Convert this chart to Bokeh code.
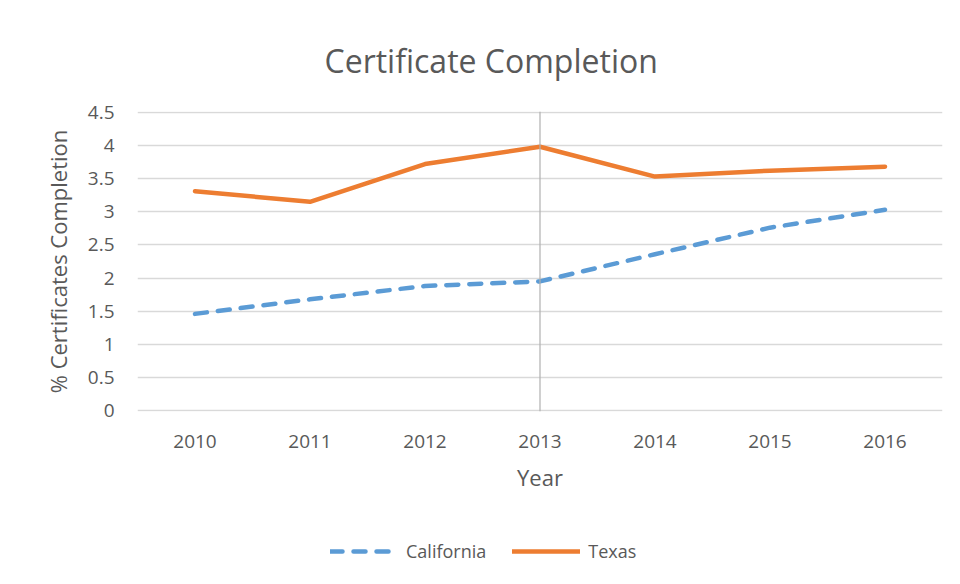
from bokeh.plotting import figure
from bokeh.layouts import column
from bokeh.models import Span, Legend, LegendItem, FixedTicker, Title
from bokeh.embed import file_html
from bokeh.resources import INLINE

years = [2010, 2011, 2012, 2013, 2014, 2015, 2016]
california = [1.46, 1.68, 1.88, 1.95, 2.36, 2.76, 3.03]
texas = [3.31, 3.15, 3.72, 3.98, 3.53, 3.62, 3.68]
y_ticks = [0, 0.5, 1, 1.5, 2, 2.5, 3, 3.5, 4, 4.5]
y_tick_labels = ["0", "0.5", "1", "1.5", "2", "2.5", "3", "3.5", "4", "4.5"]
marker_year = 2013

FONT = "Open Sans"
TXT = "#595959"
CA_STYLE = dict(line_color="#5B9BD5", line_width=4.5, line_dash="12 11", line_cap="round")
TX_STYLE = dict(line_color="#ED7D31", line_width=4.5, line_cap="round", line_join="round")

p = figure(width=944, height=520, output_backend="svg", toolbar_location=None,
           x_range=(2009.5, 2016.5), y_range=(-0.012, 4.512),
           min_border_left=137, min_border_right=2, min_border_top=111, min_border_bottom=109)
p.outline_line_color = None
p.background_fill_color = "white"
p.border_fill_color = "white"

t = Title(text="Certificate Completion", align="left", text_font=FONT, text_font_size="32px",
          text_font_style="normal", text_color=TXT, standoff=59, offset=187)
p.add_layout(t, "above")

p.xgrid.grid_line_color = None
p.ygrid.grid_line_color = "#d9d9d9"
p.ygrid.grid_line_width = 1.3

p.xaxis.ticker = FixedTicker(ticks=years)
p.yaxis.ticker = FixedTicker(ticks=y_ticks)
p.yaxis.major_label_overrides = {float(k): v for k, v in zip(y_ticks, y_tick_labels)}

for ax in (p.xaxis[0], p.yaxis[0]):
    ax.axis_line_color = None
    ax.major_tick_line_color = None
    ax.minor_tick_line_color = None
    ax.major_label_text_font = FONT
    ax.major_label_text_font_size = "19px"
    ax.major_label_text_color = TXT
    ax.axis_label_text_font = FONT
    ax.axis_label_text_font_size = "22px"
    ax.axis_label_text_font_style = "normal"
    ax.axis_label_text_color = TXT

p.xaxis.axis_label = "Year"
p.xaxis.major_label_standoff = 17
p.xaxis.axis_label_standoff = 11
p.yaxis.axis_label = "% Certificates Completion"
p.yaxis.major_label_standoff = 17
p.yaxis.axis_label_standoff = 12

p.add_layout(Span(location=marker_year, dimension="height", line_color="#b0b0b0", line_width=1.2))

p.line(years, california, **CA_STYLE)
p.line(years, texas, **TX_STYLE)

# legend strip below the chart (its lines lie outside its visible range; only the legend shows)
p2 = figure(width=944, height=58, output_backend="svg", toolbar_location=None,
            x_range=(0, 1), y_range=(0, 1), min_border=0)
p2.axis.visible = False
p2.grid.visible = False
p2.outline_line_color = None
l_ca = p2.line(years, california, **CA_STYLE)
l_tx = p2.line(years, texas, **TX_STYLE)
legend = Legend(items=[LegendItem(label="California", renderers=[l_ca]),
                       LegendItem(label="Texas", renderers=[l_tx])],
                orientation="horizontal", location=(193, 15),
                label_text_font=FONT, label_text_font_size="18px", label_text_color=TXT,
                glyph_width=68, glyph_height=20, label_standoff=8, spacing=26,
                border_line_color=None, background_fill_alpha=0, padding=4, margin=0)
p2.add_layout(legend, "center")

open("out.html", "w").write(file_html(column(p, p2, spacing=0), INLINE))
